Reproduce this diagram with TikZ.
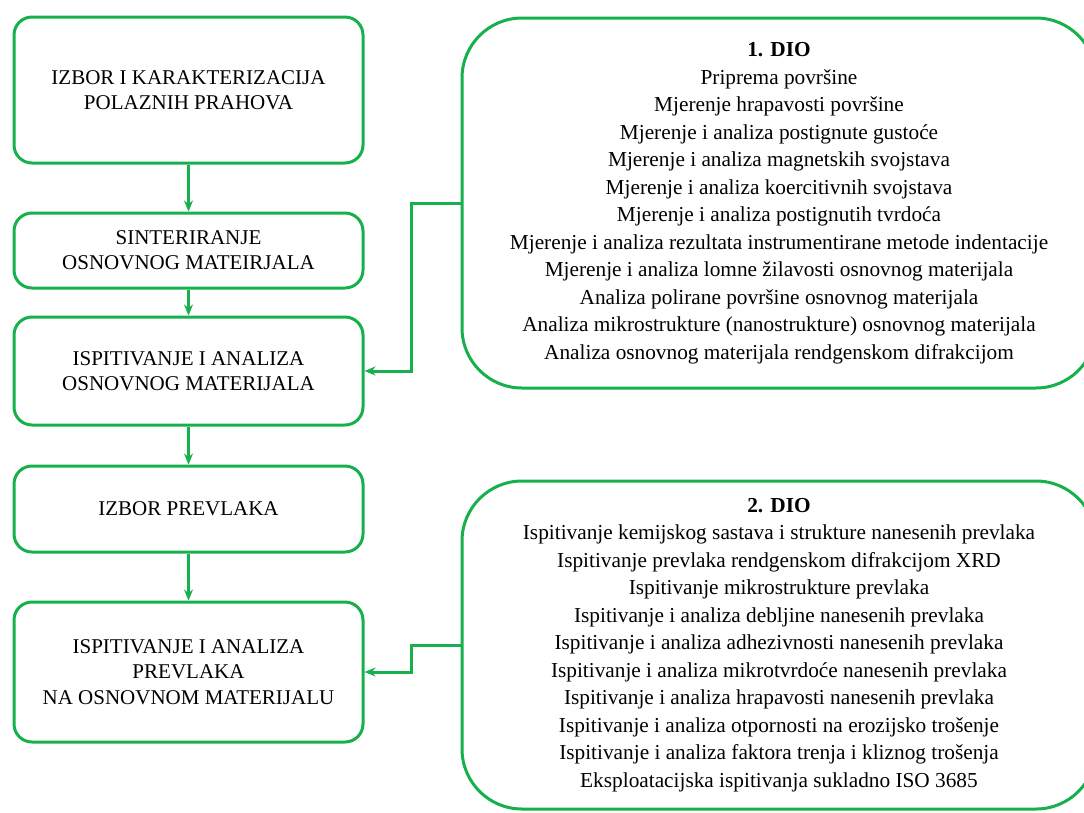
\documentclass[tikz,border=0pt]{standalone}
\usepackage{fontspec}
\setmainfont{Liberation Serif}
\usetikzlibrary{arrows.meta}
\definecolor{grn}{RGB}{22,176,76}
\begin{document}
\begin{tikzpicture}[x=1pt,y=-1pt,
  lbox/.style={draw=grn, line width=3pt, rounded corners=18pt, minimum width=349pt, align=center, font=\fontsize{21}{25.3}\selectfont, inner sep=0pt},
  rbox/.style={draw=grn, line width=3pt, rounded corners=60pt, minimum width=634pt, align=center, font=\fontsize{21.3}{27.5}\selectfont, inner sep=0pt},
  conn/.style={draw=grn, line width=3pt, -{Stealth[length=11pt,width=9pt]}}]
\useasboundingbox (0,0) rectangle (1084,812);
\clip (0,0) rectangle (1084,812);
\node[lbox, minimum height=146pt] (a) at (188.5,90) {IZBOR I KARAKTERIZACIJA\\POLAZNIH PRAHOVA};
\node[lbox, minimum height=75pt] (b) at (188.5,250.5) {SINTERIRANJE\\OSNOVNOG MATEIRJALA};
\node[lbox, minimum height=108pt] (c) at (188.5,371) {ISPITIVANJE I ANALIZA\\OSNOVNOG MATERIJALA};
\node[lbox, minimum height=86pt] (d) at (188.5,509) {IZBOR PREVLAKA};
\node[lbox, minimum height=140pt] (e) at (188.5,672) {ISPITIVANJE I ANALIZA\\PREVLAKA\\NA OSNOVNOM MATERIJALU};
\node[rbox, minimum height=370pt] (r1) at (779,203) {\textbf{1. DIO}\\
Priprema površine\\
Mjerenje hrapavosti površine\\
Mjerenje i analiza postignute gustoće\\
Mjerenje i analiza magnetskih svojstava\\
Mjerenje i analiza koercitivnih svojstava\\
Mjerenje i analiza postignutih tvrdoća\\
Mjerenje i analiza rezultata instrumentirane metode indentacije\\
Mjerenje i analiza lomne žilavosti osnovnog materijala\\
Analiza polirane površine osnovnog materijala\\
Analiza mikrostrukture (nanostrukture) osnovnog materijala\\
Analiza osnovnog materijala rendgenskom difrakcijom};
\node[rbox, minimum height=328pt] (r2) at (779,645) {\textbf{2. DIO}\\
Ispitivanje kemijskog sastava i strukture nanesenih prevlaka\\
Ispitivanje prevlaka rendgenskom difrakcijom XRD\\
Ispitivanje mikrostrukture prevlaka\\
Ispitivanje i analiza debljine nanesenih prevlaka\\
Ispitivanje i analiza adhezivnosti nanesenih prevlaka\\
Ispitivanje i analiza mikrotvrdoće nanesenih prevlaka\\
Ispitivanje i analiza hrapavosti nanesenih prevlaka\\
Ispitivanje i analiza otpornosti na erozijsko trošenje\\
Ispitivanje i analiza faktora trenja i kliznog trošenja\\
Eksploatacijska ispitivanja sukladno ISO 3685};
\draw[conn] (a.south) -- (b.north);
\draw[conn] (b.south) -- (c.north);
\draw[conn] (c.south) -- (d.north);
\draw[conn] (d.south) -- (e.north);
\coordinate (k1) at ([xshift=-49pt]r1.west);
\coordinate (k2) at ([xshift=-49pt]r2.west);
\draw[conn] (r1.west) -- (k1) |- (c.east);
\draw[conn] (r2.west) -- (k2) |- (e.east);
\end{tikzpicture}
\end{document}
